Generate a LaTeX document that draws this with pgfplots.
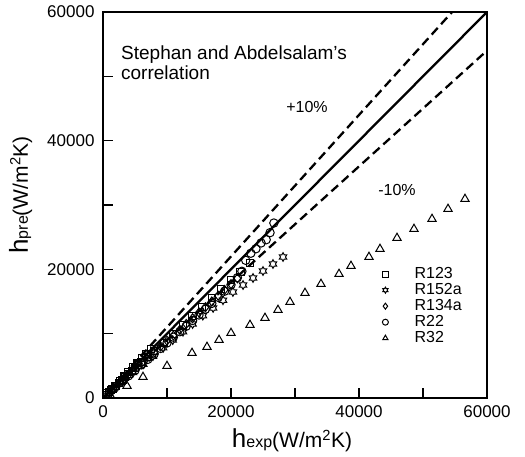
\documentclass[border=0pt]{standalone}
\usepackage{fontspec}
\setmainfont{Liberation Sans}
\usepackage{pgfplots}
\pgfplotsset{compat=1.18}
\pgfdeclareplotmark{hexstar}{%
  \pgfpathmoveto{\pgfpointpolar{90}{\pgfplotmarksize}}%
  \pgfpathlineto{\pgfpointpolar{120}{0.577\pgfplotmarksize}}%
  \pgfpathlineto{\pgfpointpolar{150}{\pgfplotmarksize}}%
  \pgfpathlineto{\pgfpointpolar{180}{0.577\pgfplotmarksize}}%
  \pgfpathlineto{\pgfpointpolar{210}{\pgfplotmarksize}}%
  \pgfpathlineto{\pgfpointpolar{240}{0.577\pgfplotmarksize}}%
  \pgfpathlineto{\pgfpointpolar{270}{\pgfplotmarksize}}%
  \pgfpathlineto{\pgfpointpolar{300}{0.577\pgfplotmarksize}}%
  \pgfpathlineto{\pgfpointpolar{330}{\pgfplotmarksize}}%
  \pgfpathlineto{\pgfpointpolar{0}{0.577\pgfplotmarksize}}%
  \pgfpathlineto{\pgfpointpolar{30}{\pgfplotmarksize}}%
  \pgfpathlineto{\pgfpointpolar{60}{0.577\pgfplotmarksize}}%
  \pgfpathclose\pgfusepathqstroke}
\pgfplotsset{mymarks/.style={only marks, black,
  legend image code/.code={\path (0pt,0pt) (38pt,0pt);\draw[mark repeat=2,mark phase=2,mark size=3pt] plot coordinates {(0pt,0pt)(10pt,0pt)(38pt,0pt)};}}}
\begin{document}
\begin{tikzpicture}
\useasboundingbox (-103pt,-59pt) rectangle (422pt,398pt);
\begin{axis}[
  scale only axis, width=384pt, height=386pt,
  xmin=0, xmax=60000, ymin=0, ymax=60000,
  xtick={0,20000,40000,60000}, ytick={0,20000,40000,60000},
  minor xtick={10000,30000,50000}, minor ytick={10000,30000,50000},
  tick pos=left, tick align=inside,
  major tick length=10pt, minor tick length=10pt,
  every tick/.style={black, line width=1.2pt},
  axis line style={line width=1.6pt},
  scaled ticks=false,
  /pgf/number format/1000 sep={},
  /pgf/number format/assume math mode=true,
  tick label style={font=\fontsize{17}{17}\selectfont},
  xticklabel style={yshift=-4pt},
  yticklabel style={xshift=-5pt},
  xlabel={\fontsize{26}{26}\selectfont h\fontsize{16}{16}\selectfont exp\fontsize{21}{21}\selectfont(W/m\textsuperscript{2}K)},
  ylabel={\fontsize{26}{26}\selectfont h\fontsize{16}{16}\selectfont pre\fontsize{21}{21}\selectfont(W/m\textsuperscript{2}K)},
  every axis x label/.style={at={([xshift=-3pt,yshift=-50pt]axis description cs:0.5,0)}, anchor=base},
  every axis y label/.style={at={([xshift=-75pt]axis description cs:0,0.526)}, anchor=base, rotate=90},
  legend style={draw=none, fill=none, at={(axis cs:42500,20520)}, anchor=north west,
    inner sep=0pt, font=\fontsize{16}{14}\selectfont,
    nodes={inner sep=1pt, text height=11pt, text depth=3pt}, row sep=0pt},
  legend cell align=left,
  mark options={solid, line width=1pt},
]
\addplot[black, line width=2.3pt, forget plot] coordinates {(0,0)(60000,60000)};
\addplot[black, line width=2.3pt, dash pattern=on 9pt off 5pt, forget plot] coordinates {(0,0)(54545,60000)};
\addplot[black, line width=2.3pt, dash pattern=on 9pt off 5pt, forget plot] coordinates {(0,0)(60000,54000)};

% R123
\addplot[mymarks, mark=square, mark size=3.6pt] coordinates {
(500,480)(700,700)(1000,950)(1300,1300)(1500,1400)(1900,1900)(2000,1900)(2500,2350)(2600,2600)(3000,2850)(3300,3350)(3500,3300)(4000,3750)(4000,4050)(4500,4250)(4700,4800)(5000,4700)(5400,5500)(5500,5200)(6000,5600)(6100,6200)(6800,6900)(7000,6400)(7500,7600)(8000,7300)(9500,8600)(11000,10000)(12500,11400)(14000,12800)(15500,14100)(17000,15500)(18500,16900)(20000,18300)(21500,19600)(23000,21000)};
\addlegendentry{R123}
% R152a
\addplot[mymarks, mark=hexstar, mark size=4.3pt] coordinates {
(1600,1350)(3100,2600)(4700,3950)(6300,5250)(7800,6500)(9400,7800)(10900,9000)(12500,10300)(14000,11500)(15600,12800)(17200,14000)(18750,15200)(20300,16480)(21880,17560)(23440,18650)(25000,19740)(26560,20830)(28130,21920)};
\addlegendentry{R152a}
% R134a
\addplot[mymarks, mark=diamond, mark size=4.5pt] coordinates {
(800,700)(1600,1450)(2400,2150)(3200,2900)(4000,3600)(4800,4300)(5600,5000)(6400,5700)(7200,6400)(8000,7100)(9000,8000)(10000,8900)(11000,9700)(12000,10600)(13000,11500)(14000,12400)(15000,13300)(16000,14100)(17000,15000)(18000,15900)(19000,16800)(20000,17700)(21000,18600)};
\addlegendentry{R134a}
% R22
\addplot[mymarks, mark=o, mark size=4.2pt] coordinates {
(1000,870)(2000,1750)(3000,2600)(4000,3450)(5000,4300)(6000,5150)(7000,6000)(8000,6850)(9000,7700)(10000,8550)(11000,9450)(12000,10300)(13000,11150)(14000,12050)(15000,12900)(16000,13800)(17000,14700)(18000,15650)(19000,16600)(20000,17600)(21000,18700)(21700,19700)(22300,21400)(23100,22500)(23900,23200)(24700,24100)(25500,24600)(26100,25700)(26700,27200)};
\addlegendentry{R22}
% R32
\addplot[mymarks, mark=triangle, mark size=4.8pt] coordinates {
(1100,470)(3750,1870)(6250,3260)(10000,4970)(13910,6990)(16250,7930)(18130,9020)(20000,10100)(22970,11350)(25310,12440)(27340,13680)(29220,14920)(31560,16320)(34060,17720)(36880,19270)(38750,20520)(41560,21920)(43280,23160)(45940,24870)(48590,26270)(51410,27820)(53910,29380)(56560,30930)};
\addlegendentry{R32}

\node[anchor=north west, align=left, inner sep=0pt, font=\fontsize{19}{20}\selectfont] at (axis cs:2810,54715) {Stephan and Abdelsalam's\\correlation};
\node[font=\fontsize{16}{16}\selectfont] at (axis cs:31870,45230) {+10\%};
\node[font=\fontsize{16}{16}\selectfont] at (axis cs:45940,32330) {-10\%};
\end{axis}
\end{tikzpicture}
\end{document}
